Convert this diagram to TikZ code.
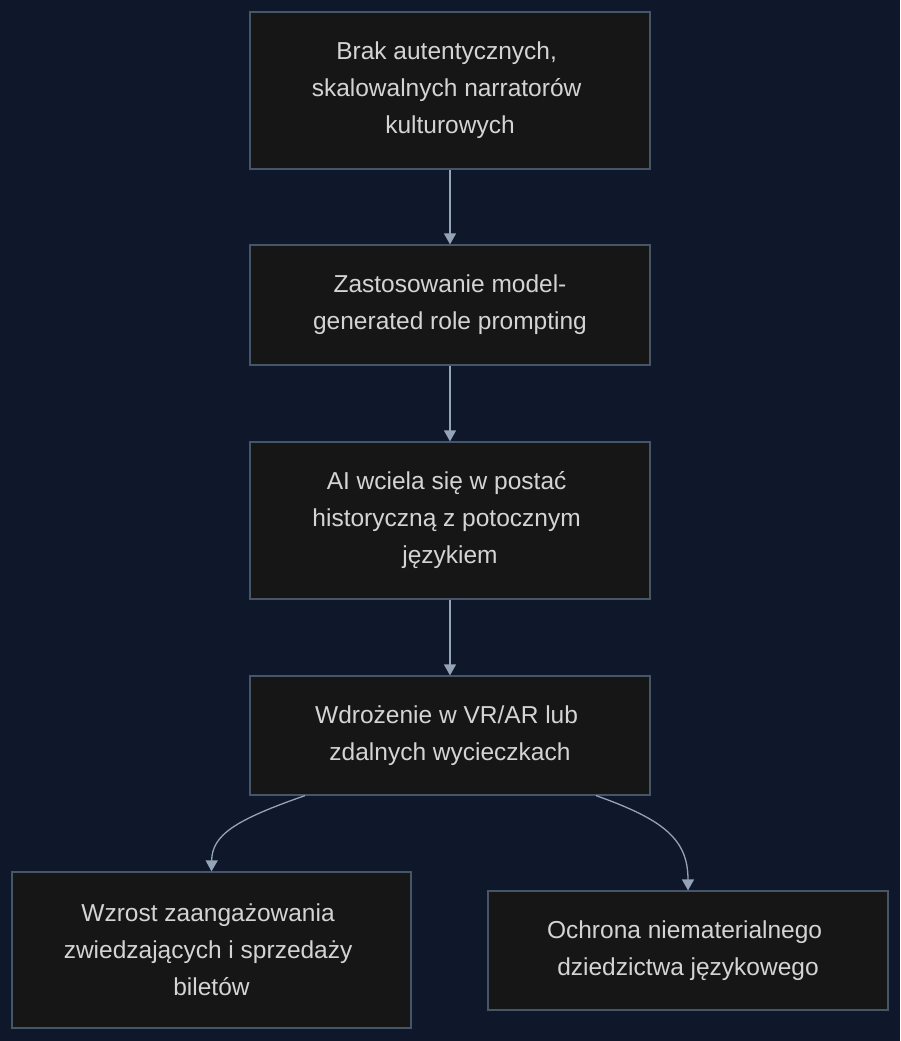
\documentclass[tikz,border=0pt]{standalone}
\usepackage{fontspec}
\setmainfont{Liberation Sans}
\usetikzlibrary{arrows.meta}
\definecolor{bg}{HTML}{0F172A}
\definecolor{boxfill}{HTML}{161616}
\definecolor{boxline}{HTML}{475569}
\definecolor{arrowc}{HTML}{94A3B8}
\definecolor{txt}{HTML}{D4D4D4}
\newcommand{\tsp}{\rule{0.278em}{0pt}}
\begin{document}
\begin{tikzpicture}[x=1pt,y=-1pt,
  box/.style={draw=boxline,fill=boxfill,line width=1.2pt,minimum width=400pt,inner sep=0pt,
    text=txt,align=center,font=\fontsize{24.5}{37}\selectfont},
  conn/.style={draw=arrowc,line width=1.3pt,-{Triangle[width=12pt,length=11pt]}}]
\useasboundingbox[fill=bg] (0,0) rectangle (900,1041);
\node[box,minimum height=157pt] (a) at (450,90.5) {Brak autentycznych,\tsp\\skalowalnych narratorów\tsp\\kulturowych};
\node[box,minimum height=120pt] (b) at (450,305) {Zastosowanie model-\\generated role prompting};
\node[box,minimum height=157pt] (c) at (450,520.5) {AI wciela się w postać\tsp\\historyczną z potocznym\tsp\\językiem};
\node[box,minimum height=119pt] (d) at (450,735.5) {Wdrożenie w VR/AR lub\tsp\\zdalnych wycieczkach};
\node[box,minimum width=399pt,minimum height=156pt] (e) at (211.5,950) {Wzrost zaangażowania\tsp\\zwiedzających i sprzedaży\tsp\\biletów};
\node[box,minimum height=119pt] (f) at (688,950.5) {Ochrona niematerialnego\tsp\\dziedzictwa językowego};
\draw[conn] (a.south) -- (b.north);
\draw[conn] (b.south) -- (c.north);
\draw[conn] (c.south) -- (d.north);
\coordinate (dl) at ([xshift=-145pt]d.south);
\coordinate (dr) at ([xshift=146pt]d.south);
\draw[conn] (dl) .. controls (235,820) and (212,835) .. (e.north);
\draw[conn] (dr) .. controls (665,820) and (688,840) .. (f.north);
\end{tikzpicture}
\end{document}
